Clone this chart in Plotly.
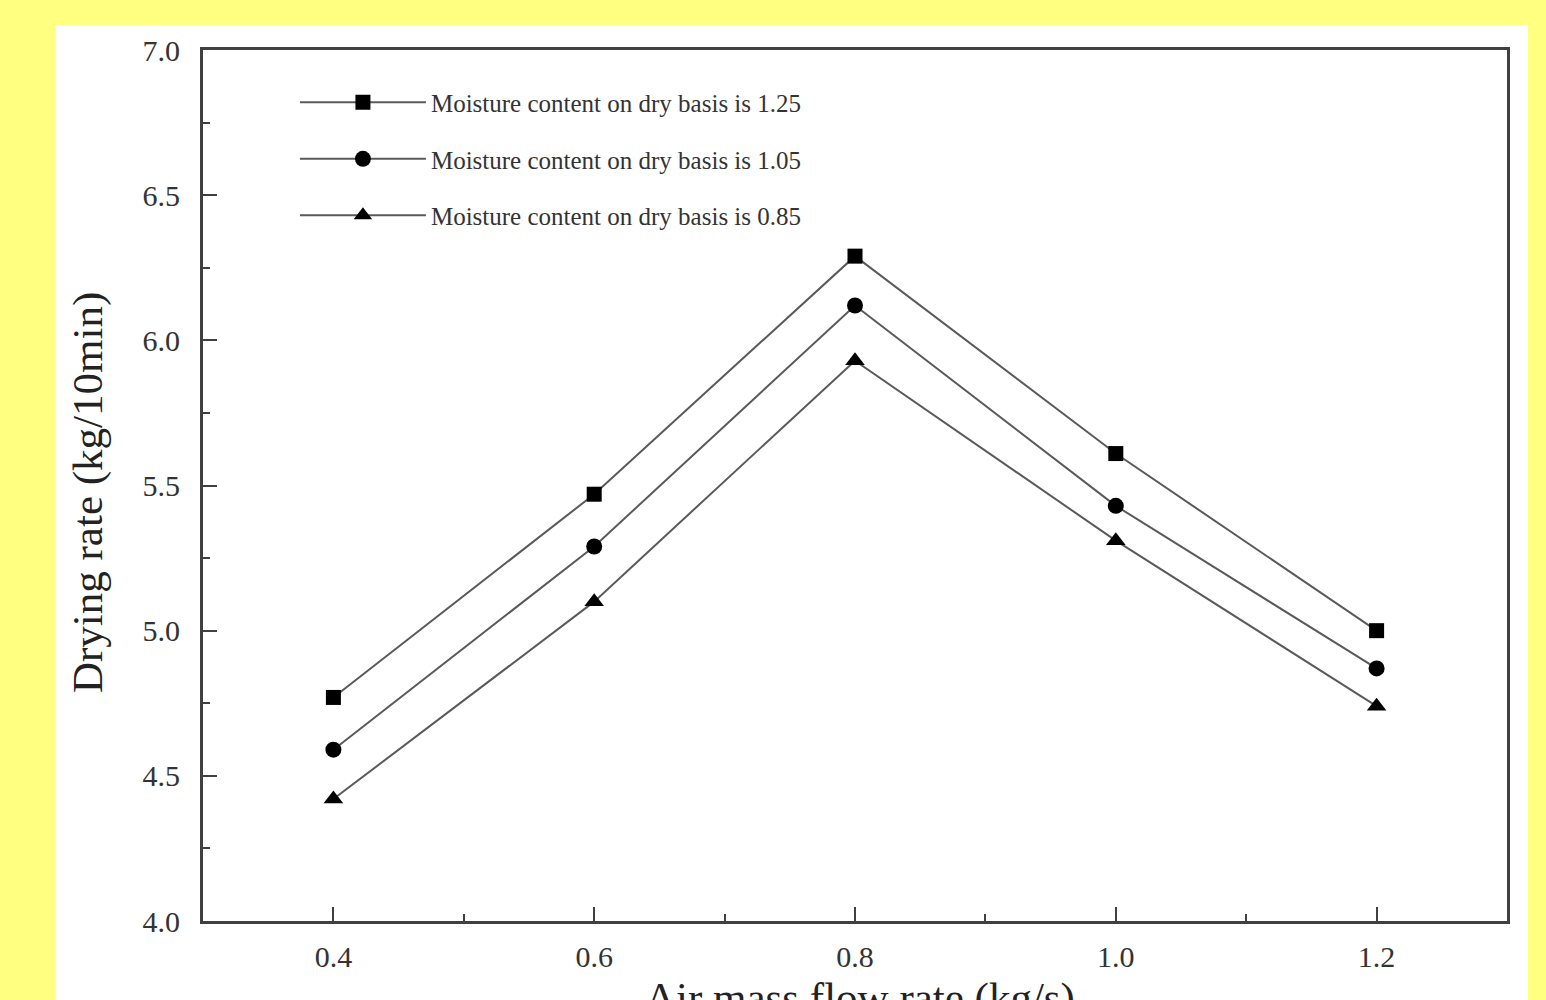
import plotly.graph_objects as go

air_flow = [0.4, 0.6, 0.8, 1.0, 1.2]
rate_125 = [4.77, 5.47, 6.29, 5.61, 5.00]
rate_105 = [4.59, 5.29, 6.12, 5.43, 4.87]
rate_085 = [4.42, 5.10, 5.93, 5.31, 4.74]
series_names = [
    "Moisture content on dry basis is 1.25",
    "Moisture content on dry basis is 1.05",
    "Moisture content on dry basis is 0.85",
]
x_ticks = [0.4, 0.6, 0.8, 1.0, 1.2]
x_ticklabels = ["0.4", "0.6", "0.8", "1.0", "1.2"]
y_ticks = [4.0, 4.5, 5.0, 5.5, 6.0, 6.5, 7.0]
y_ticklabels = ["4.0", "4.5", "5.0", "5.5", "6.0", "6.5", "7.0"]

FONT = "Liberation Serif, Times New Roman, serif"
LINE = "#5a5a5a"

fig = go.Figure()
series = [rate_125, rate_105, rate_085]
symbols = ["square", "circle", "triangle-up"]
sizes = [15, 16, 17]
for i, (vals, sym, sz, nm) in enumerate(zip(series, symbols, sizes, series_names)):
    fig.add_trace(go.Scatter(
        x=air_flow, y=vals, mode="lines+markers", name=nm,
        legendgroup=f"g{i}",
        line=dict(color=LINE, width=2),
        marker=dict(symbol=sym, size=sz, color="black", line=dict(width=0)),
    ))

fig.add_shape(type="rect", xref="paper", yref="paper",
              x0=-0.1135, x1=1.0161, y0=-0.3, y1=1.0287,
              fillcolor="white", line=dict(width=0), layer="below")

fig.add_annotation(text="Drying rate (kg/10min)", xref="paper", yref="paper",
                   x=-0.0882, y=0.4925, textangle=-90, showarrow=False,
                   xanchor="center", yanchor="middle",
                   font=dict(family=FONT, size=43, color="#222"))
fig.add_annotation(text="Air mass flow rate (kg/s)", xref="paper", yref="paper",
                   x=0.5038, y=-0.0585, showarrow=False,
                   xanchor="center", yanchor="top",
                   font=dict(family=FONT, size=43, color="#222"))

axis_common = dict(showline=True, linecolor="#404040", linewidth=3, mirror=True,
                   showgrid=False, zeroline=False, ticks="inside", ticklen=14,
                   tickwidth=2, tickcolor="#404040",
                   tickfont=dict(family=FONT, size=30, color="#333"))

fig.update_xaxes(range=[0.3, 1.3], tickvals=x_ticks, ticktext=x_ticklabels,
                 ticklabelstandoff=7,
                 minor=dict(ticks="inside", ticklen=7, tickwidth=2, tickcolor="#404040",
                            dtick=0.1, tick0=0.3),
                 **axis_common)
fig.update_yaxes(range=[4.0, 7.0], tickvals=y_ticks, ticktext=y_ticklabels,
                 ticklabelstandoff=14,
                 minor=dict(ticks="inside", ticklen=7, tickwidth=2, tickcolor="#404040",
                            dtick=0.25, tick0=4.0),
                 **axis_common)

fig.update_layout(
    width=1546, height=1000,
    margin=dict(l=203, r=39, t=50, b=79, pad=0),
    paper_bgcolor="#FFFF80", plot_bgcolor="white",
    showlegend=True,
    legend=dict(x=0.0705, y=0.966, xanchor="left", yanchor="top",
                bgcolor="rgba(0,0,0,0)", itemwidth=126, tracegroupgap=21,
                traceorder="grouped",
                font=dict(family=FONT, size=25, color="#333")),
)

fig.write_html("out.html", config={"displayModeBar": False},
               post_script="document.body.style.margin='0';document.body.style.overflow='hidden';")
